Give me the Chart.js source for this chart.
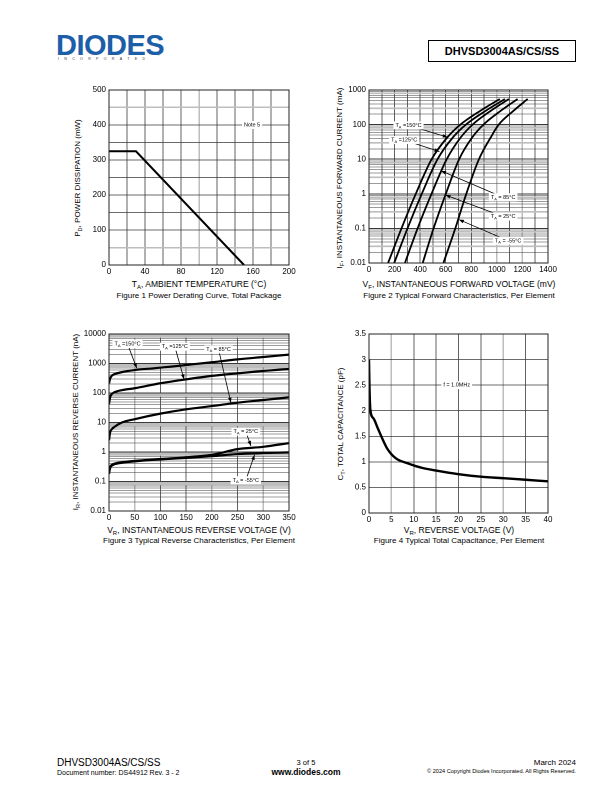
<!DOCTYPE html>
<html>
<head>
<meta charset="utf-8">
<script src="https://cdn.jsdelivr.net/npm/chart.js@4.4.1/dist/chart.umd.min.js"></script>
<style>
  body { margin: 0; background: #fff; }
  #page { position: relative; width: 612px; height: 792px; overflow: hidden; }
  .t { position: absolute; font-family: 'Liberation Sans', Arial, sans-serif; white-space: nowrap; line-height: 1; color: #000; }
  .c { transform: translateX(-50%); }
  .r { transform: translateX(-100%); }
  .rot { transform: translate(-50%, -50%) rotate(-90deg); }
  canvas { position: absolute; }
  sub { font-size: 70%; vertical-align: -2px; line-height: 0; }
</style>
</head>
<body>
<div id="page">
  <!-- header -->
  <div class="t" style="left:56px; top:31px; font-family:'Liberation Sans Narrow','Liberation Sans',Arial; font-weight:bold; font-size:29px; color:#1d5ea8; letter-spacing:-0.5px;">DIODES</div>
  <div class="t" style="left:157px; top:53px; font-size:4px; color:#1d5ea8;">&reg;</div>
  <div class="t" style="left:58px; top:58px; font-size:3.6px; letter-spacing:5.3px; color:#333;">INCORPORATED</div>
  <div class="t" style="left:428px; top:40px; width:146px; height:20px; border:1px solid #000; font-weight:bold; font-size:11px; text-align:center; line-height:20px;">DHVSD3004AS/CS/SS</div>

  <!-- figure 1 texts -->
  <div class="t rot" style="left:78px; top:178px; font-size:8px;">P<sub>D</sub>, POWER DISSIPATION (mW)</div>
  <div class="t c" style="left:199px; top:280px; font-size:8.5px;">T<sub>A</sub>, AMBIENT TEMPERATURE (°C)</div>
  <div class="t c" style="left:199px; top:292px; font-size:8px;">Figure 1 Power Derating Curve, Total Package</div>

  <!-- figure 2 texts -->
  <div class="t rot" style="left:340px; top:178px; font-size:8px;">I<sub>F</sub>, INSTANTANEOUS FORWARD CURRENT (mA)</div>
  <div class="t c" style="left:459px; top:280px; font-size:8.5px;">V<sub>F</sub>, INSTANTANEOUS FORWARD VOLTAGE (mV)</div>
  <div class="t c" style="left:459px; top:292px; font-size:8px;">Figure 2 Typical Forward Characteristics, Per Element</div>

  <!-- figure 3 texts -->
  <div class="t rot" style="left:76px; top:422px; font-size:8px;">I<sub>R</sub>, INSTANTANEOUS REVERSE CURRENT (nA)</div>
  <div class="t c" style="left:199px; top:526px; font-size:8.5px;">V<sub>R</sub>, INSTANTANEOUS REVERSE VOLTAGE (V)</div>
  <div class="t c" style="left:199px; top:537px; font-size:8px;">Figure 3 Typical Reverse Characteristics, Per Element</div>

  <!-- figure 4 texts -->
  <div class="t rot" style="left:341px; top:424px; font-size:8px;">C<sub>T</sub>, TOTAL CAPACITANCE (pF)</div>
  <div class="t c" style="left:459px; top:526px; font-size:8.5px;">V<sub>R</sub>, REVERSE VOLTAGE (V)</div>
  <div class="t c" style="left:459px; top:537px; font-size:8px;">Figure 4 Typical Total Capacitance, Per Element</div>

  <!-- footer -->
  <div class="t" style="left:57px; top:758px; font-size:10px;">DHVSD3004AS/CS/SS</div>
  <div class="t" style="left:57px; top:769px; font-size:7px;">Document number: DS44912 Rev. 3 - 2</div>
  <div class="t c" style="left:306px; top:759px; font-size:7.5px;">3 of 5</div>
  <div class="t c" style="left:306px; top:768px; font-size:8.5px; font-weight:bold;">www.diodes.com</div>
  <div class="t r" style="left:576px; top:759px; font-size:8px;">March 2024</div>
  <div class="t r" style="left:576px; top:769px; font-size:5.6px;">© 2024 Copyright Diodes Incorporated. All Rights Reserved.</div>

  <canvas id="fig1" width="230" height="200" style="left:70px; top:80px;"></canvas>
  <canvas id="fig2" width="230" height="200" style="left:330px; top:80px;"></canvas>
  <canvas id="fig3" width="240" height="200" style="left:60px; top:325px;"></canvas>
  <canvas id="fig4" width="230" height="200" style="left:330px; top:325px;"></canvas>
</div>

<script>
// Figure 1 - power derating
var tempC = [0, 30, 150];
var powerMW = [325, 325, 0];

// Figure 2 - forward characteristics (mA shared, mV per temperature)
var fwdCurrent = [0.01, 0.1, 1, 10, 42, 100, 250, 550];
var fwdV150 = [149, 254, 366, 490, 611, 715, 870, 1023];
var fwdV125 = [197, 301, 413, 536, 655, 758, 912, 1063];
var fwdV85 = [281, 380, 489, 608, 716, 810, 952, 1094];
var fwdV25 = [420, 505, 601, 705, 806, 895, 1030, 1162];
var fwdVm55 = [582, 675, 761, 860, 951, 1015, 1130, 1241];

// Figure 3 - reverse characteristics (V shared, nA per temperature)
var revVolt = [0, 2, 5, 10, 25, 50, 100, 150, 200, 250, 300, 350];
var rev150 = [210, 300, 380, 430, 510, 600, 720, 890, 1100, 1380, 1660, 2000];
var rev125 = [42, 70, 90, 105, 125, 145, 214, 290, 380, 465, 560, 650];
var rev85 = [2.5, 4.5, 5.8, 7, 10, 13, 20, 28, 36, 47, 58, 71];
var rev25 = [0.2, 0.3, 0.36, 0.4, 0.45, 0.5, 0.58, 0.66, 0.8, 1.25, 1.5, 2.0];
var revM55 = [0.18, 0.28, 0.34, 0.38, 0.43, 0.48, 0.56, 0.63, 0.72, 0.85, 0.92, 0.97];

// Figure 4 - capacitance
var capVolt = [0, 0.1, 0.3, 1, 2, 3, 4, 5, 6, 7, 8, 10, 12, 15, 20, 25, 30, 35, 40];
var capPF = [3.0, 2.5, 2.02, 1.85, 1.65, 1.45, 1.27, 1.15, 1.07, 1.02, 0.99, 0.93, 0.88, 0.83, 0.76, 0.71, 0.68, 0.65, 0.62];

// tick labels
var fig1XLabels = ['0', '40', '80', '120', '160', '200'];
var fig1YLabels = ['0', '100', '200', '300', '400', '500'];
var fig2XLabels = ['0', '200', '400', '600', '800', '1000', '1200', '1400'];
var fig2YLabels = ['0.01', '0.1', '1', '10', '100', '1000'];
var fig3XLabels = ['0', '50', '100', '150', '200', '250', '300', '350'];
var fig3YLabels = ['0.01', '0.1', '1', '10', '100', '1000', '10000'];
var fig4XLabels = ['0', '5', '10', '15', '20', '25', '30', '35', '40'];
var fig4YLabels = ['0', '0.5', '1', '1.5', '2', '2.5', '3', '3.5'];

var FONT = "'Liberation Sans', Arial, sans-serif";
var DARK = '#3a3a3a', GREY = '#bdbdbd';

function pts(xs, ys) {
  return xs.map(function(x, i) { return { x: x, y: ys[i] }; });
}

function isDecade(v) {
  var l = Math.log10(v);
  return Math.abs(l - Math.round(l)) < 1e-9;
}

function logTicks(minExp, maxExp) {
  var out = [];
  for (var e = minExp; e < maxExp; e++) {
    for (var m = 1; m < 10; m++) out.push({ value: m * Math.pow(10, e), major: m === 1 });
  }
  out.push({ value: Math.pow(10, maxExp), major: true });
  return out;
}

function mantissa(v) {
  return Math.round(v / Math.pow(10, Math.floor(Math.log10(v) + 1e-9)));
}

function curve(data, w, smooth) {
  var ds = { data: data, showLine: true, borderColor: '#000', borderWidth: w, pointRadius: 0, fill: false, tension: 0 };
  if (smooth) ds.cubicInterpolationMode = 'monotone';
  return ds;
}

// text with a subscript on a white box, optional arrow to a data point
var notesPlugin = {
  id: 'notes',
  afterDatasetsDraw: function(chart, args, opts) {
    var ctx = chart.ctx, xs = chart.scales.x, ys = chart.scales.y;
    (opts.items || []).forEach(function(n) {
      var px = xs.getPixelForValue(n.x), py = ys.getPixelForValue(n.y);
      ctx.save();
      if (n.tx !== undefined) {
        var tx = xs.getPixelForValue(n.tx), ty = ys.getPixelForValue(n.ty);
        ctx.strokeStyle = '#000'; ctx.lineWidth = 0.8;
        ctx.beginPath(); ctx.moveTo(px, py); ctx.lineTo(tx, ty); ctx.stroke();
        var a = Math.atan2(ty - py, tx - px);
        ctx.fillStyle = '#000';
        ctx.beginPath();
        ctx.moveTo(tx, ty);
        ctx.lineTo(tx - 5 * Math.cos(a) + 1.8 * Math.sin(a), ty - 5 * Math.sin(a) - 1.8 * Math.cos(a));
        ctx.lineTo(tx - 5 * Math.cos(a) - 1.8 * Math.sin(a), ty - 5 * Math.sin(a) + 1.8 * Math.cos(a));
        ctx.closePath(); ctx.fill();
      }
      var big = '5.5px ' + FONT, small = '4px ' + FONT;
      ctx.font = big; var w1 = ctx.measureText(n.t).width;
      ctx.font = small; var w2 = n.s ? ctx.measureText(n.s).width : 0;
      ctx.font = big; var w3 = n.r ? ctx.measureText(n.r).width : 0;
      var w = w1 + w2 + w3, left = px - w / 2;
      ctx.fillStyle = '#fff';
      ctx.fillRect(left - 2, py - 4, w + 4, 8);
      ctx.fillStyle = '#000'; ctx.textBaseline = 'middle'; ctx.textAlign = 'left';
      ctx.font = big; ctx.fillText(n.t, left, py);
      if (n.s) { ctx.font = small; ctx.fillText(n.s, left + w1, py + 1.8); }
      if (n.r) { ctx.font = big; ctx.fillText(n.r, left + w1 + w2, py); }
      ctx.restore();
    });
  }
};

var framePlugin = {
  id: 'frame',
  afterDraw: function(chart) {
    var a = chart.chartArea, ctx = chart.ctx;
    ctx.save(); ctx.strokeStyle = '#222'; ctx.lineWidth = 1;
    ctx.strokeRect(a.left, a.top, a.right - a.left, a.bottom - a.top);
    ctx.restore();
  }
};

function makeChart(id, box, datasets, xScale, yScale, notes) {
  xScale.afterFit = function(s) { s.height = box.xh; };
  yScale.afterFit = function(s) { s.width = box.yw; };
  [xScale, yScale].forEach(function(s) {
    s.border = { display: false };
    s.ticks = Object.assign({ color: '#000', font: { family: FONT, size: 8 }, autoSkip: false, maxRotation: 0 }, s.ticks);
    s.grid = Object.assign({ drawTicks: false }, s.grid);
  });
  xScale.ticks.padding = 2;
  yScale.ticks.padding = 3;
  return new Chart(document.getElementById(id), {
    type: 'scatter',
    data: { datasets: datasets },
    options: {
      responsive: false, animation: false, devicePixelRatio: 2,
      layout: { padding: { top: box.top, right: box.right, left: 0, bottom: 0 } },
      plugins: { legend: { display: false }, tooltip: { enabled: false }, notes: { items: notes } },
      scales: { x: xScale, y: yScale }
    },
    plugins: [notesPlugin, framePlugin]
  });
}

function linLabel(labels, every) {
  return function(v) {
    var k = Math.round(v / every);
    return Math.abs(v - k * every) < 1e-6 ? labels[k] : '';
  };
}

// Figure 1
makeChart('fig1', { top: 10, right: 11, xh: 15, yw: 39 },
  [curve(pts(tempC, powerMW), 2, false)],
  { type: 'linear', min: 0, max: 200, ticks: { stepSize: 20, callback: linLabel(fig1XLabels, 40) },
    grid: { color: function(c) { return c.tick.value === 100 ? GREY : DARK; }, lineWidth: function(c) { return c.tick.value === 100 ? 1.5 : 0.8; } } },
  { type: 'linear', min: 0, max: 500, ticks: { stepSize: 50, callback: linLabel(fig1YLabels, 100) },
    grid: { color: function(c) { return (c.tick.value === 50 || c.tick.value === 450) ? GREY : DARK; }, lineWidth: function(c) { return (c.tick.value === 50 || c.tick.value === 450) ? 1.5 : 0.8; } } },
  [{ t: 'Note 5', x: 159, y: 400 }]
);

// Figure 2
var fwdSets = [fwdV150, fwdV125, fwdV85, fwdV25, fwdVm55].map(function(v) { return curve(pts(v, fwdCurrent), 1.8, true); });
makeChart('fig2', { top: 10, right: 12, xh: 17, yw: 39 },
  fwdSets,
  { type: 'linear', min: 0, max: 1400, ticks: { stepSize: 100, callback: linLabel(fig2XLabels, 200) },
    grid: { color: function(c) { return (c.tick.value === 1000 || c.tick.value === 1200) ? GREY : DARK; }, lineWidth: function(c) { return (c.tick.value === 1000 || c.tick.value === 1200) ? 1.5 : 0.8; } } },
  { type: 'logarithmic', min: 0.01, max: 1000,
    afterBuildTicks: function(s) { s.ticks = logTicks(-2, 3); },
    ticks: { callback: function(v) { return isDecade(v) ? fig2YLabels[Math.round(Math.log10(v)) + 2] : ''; } },
    grid: { color: function(c) { var m = mantissa(c.tick.value); return (m === 8 || m === 3) ? GREY : DARK; },
            lineWidth: function(c) { var m = mantissa(c.tick.value); return m === 1 ? 1 : (m === 8 || m === 3) ? 1.6 : 0.6; } } },
  [
    { t: 'T', s: 'A', r: ' =150°C', x: 309, y: 95, tx: 616, ty: 43 },
    { t: 'T', s: 'A', r: ' =125°C', x: 275, y: 36, tx: 551, ty: 16.5 },
    { t: 'T', s: 'A', r: ' = 85°C', x: 1049, y: 0.79, tx: 564, ty: 4.6 },
    { t: 'T', s: 'A', r: ' = 25°C', x: 1049, y: 0.22, tx: 598, ty: 0.92 },
    { t: 'T', s: 'A', r: ' = -55°C', x: 1088, y: 0.044, tx: 703, ty: 0.18 }
  ]
);

// Figure 3
var revSets = [rev150, rev125, rev85, rev25, revM55].map(function(v) { return curve(pts(revVolt, v), 2.2, true); });
makeChart('fig3', { top: 9, right: 11, xh: 14, yw: 49 },
  revSets,
  { type: 'linear', min: 0, max: 350, ticks: { stepSize: 50, callback: linLabel(fig3XLabels, 50) },
    grid: { color: function(c) { return (c.tick.value === 50 || c.tick.value === 200 || c.tick.value === 300) ? GREY : DARK; }, lineWidth: function(c) { return (c.tick.value === 50 || c.tick.value === 200 || c.tick.value === 300) ? 1.5 : 0.8; } } },
  { type: 'logarithmic', min: 0.01, max: 10000,
    afterBuildTicks: function(s) { s.ticks = logTicks(-2, 4); },
    ticks: { callback: function(v) { return isDecade(v) ? fig3YLabels[Math.round(Math.log10(v)) + 2] : ''; } },
    grid: { color: function(c) { var m = mantissa(c.tick.value); return (m === 8 || m === 9) ? GREY : DARK; },
            lineWidth: function(c) { var m = mantissa(c.tick.value); return m === 1 ? 1 : (m === 8 || m === 9) ? 1.8 : 0.6; } } },
  [
    { t: 'T', s: 'A', r: ' =150°C', x: 36, y: 4570, tx: 54, ty: 690 },
    { t: 'T', s: 'A', r: ' =125°C', x: 128, y: 3720, tx: 146, ty: 290 },
    { t: 'T', s: 'A', r: ' = 85°C', x: 213, y: 3020, tx: 237, ty: 47 },
    { t: 'T', s: 'A', r: ' = 25°C', x: 266, y: 4.9, tx: 276, ty: 1.6 },
    { t: 'T', s: 'A', r: ' = -55°C', x: 266, y: 0.11, tx: 283, ty: 0.8 }
  ]
);

// Figure 4
makeChart('fig4', { top: 9, right: 12, xh: 12, yw: 39 },
  [curve(pts(capVolt, capPF), 2.4, true)],
  { type: 'linear', min: 0, max: 40, ticks: { stepSize: 5, callback: linLabel(fig4XLabels, 5) },
    grid: { color: function(c) { return (c.tick.value === 5 || c.tick.value === 30) ? GREY : DARK; }, lineWidth: function(c) { return (c.tick.value === 5 || c.tick.value === 30) ? 1.5 : 0.8; } } },
  { type: 'linear', min: 0, max: 3.5, ticks: { stepSize: 0.5, callback: linLabel(fig4YLabels, 0.5) },
    grid: { color: DARK, lineWidth: 0.8 } },
  [{ t: 'f = 1.0MHz', x: 19.6, y: 2.5 }]
);
</script>
</body>
</html>
